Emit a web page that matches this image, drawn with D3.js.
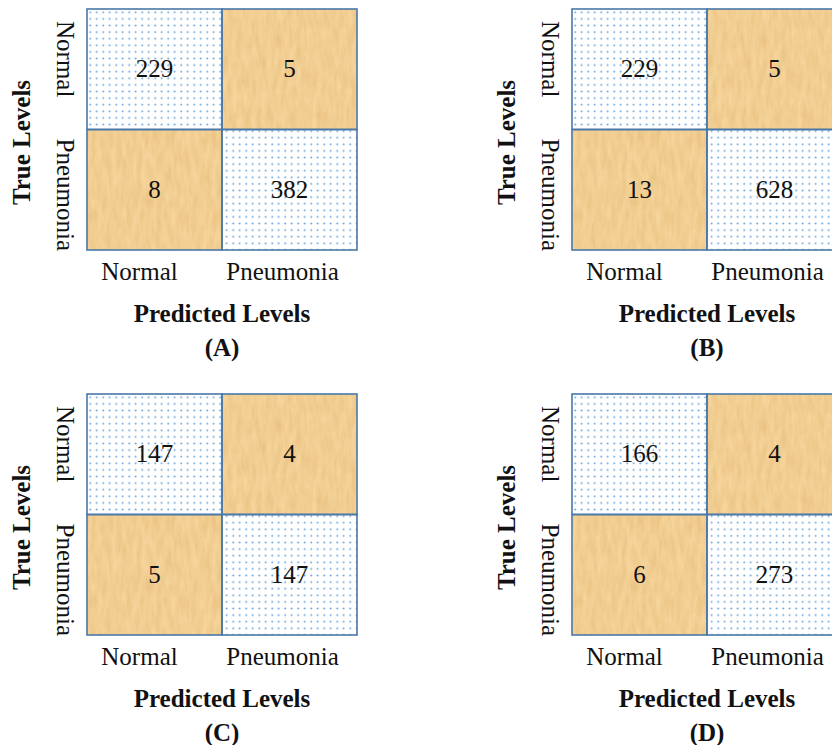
<!DOCTYPE html>
<html>
<head>
<meta charset="utf-8">
<script src="https://cdn.jsdelivr.net/npm/d3@7"></script>
<style>
  html, body { margin: 0; padding: 0; background: #ffffff; }
  svg { display: block; }
  text { font-family: "Liberation Serif", "Times New Roman", serif; fill: #111; }
</style>
</head>
<body>
<div id="chart"></div>
<script>
// ---- data ----
const classes = ["Normal", "Pneumonia"];          // true / predicted levels
const panelLabels = ["(A)", "(B)", "(C)", "(D)"];
const matrixA = [[229, 5], [8, 382]];
const matrixB = [[229, 5], [13, 628]];
const matrixC = [[147, 4], [5, 147]];
const matrixD = [[166, 4], [6, 273]];
const matrices = [matrixA, matrixB, matrixC, matrixD];
const xAxisTitle = "Predicted Levels";
const yAxisTitle = "True Levels";

// ---- layout / style ----
const W = 832, H = 745;
const panelLeft = [87, 572];
const panelTop = [9, 394];
const gridW = 270, gridH = 241;
const borderColor = "#4a78a8";
const dotColor = "#5b9bd5";
const xLabelShift = [-15, -7];
const yLabelStart = [12, 9];

const svg = d3.select("#chart").append("svg")
  .attr("width", W).attr("height", H);

const defs = svg.append("defs");
// dotted pattern (correct predictions)
const pat = defs.append("pattern")
  .attr("id", "dots").attr("patternUnits", "userSpaceOnUse")
  .attr("width", 6.5).attr("height", 6.6);
pat.append("rect").attr("width", 6.5).attr("height", 6.6).attr("fill", "#ffffff");
pat.append("circle").attr("cx", 3.2).attr("cy", 3.3).attr("r", 0.9).attr("fill", dotColor);

// papyrus-like texture (misclassifications)
const filt = defs.append("filter").attr("id", "papyrus")
  .attr("x", 0).attr("y", 0).attr("width", 1).attr("height", 1)
  .attr("color-interpolation-filters", "sRGB");
filt.append("feTurbulence").attr("type", "fractalNoise")
  .attr("baseFrequency", "0.2 0.05").attr("numOctaves", 3).attr("seed", 7).attr("result", "n");
filt.append("feColorMatrix").attr("in", "n").attr("type", "matrix")
  .attr("values", "0.07 0 0 0 0.91  0.10 0 0 0 0.755  0.14 0 0 0 0.50  0 0 0 0 1");

const x = d3.scaleBand().domain(classes).range([0, gridW]);
const y = d3.scaleBand().domain(classes).range([0, gridH]);

matrices.forEach((m, i) => {
  const px = panelLeft[i % 2], py = panelTop[Math.floor(i / 2)];
  const g = svg.append("g").attr("transform", `translate(${px},${py})`);

  const cells = [];
  classes.forEach((t, r) => classes.forEach((p, c) => cells.push({ t, p, r, c, v: m[r][c] })));

  g.selectAll("rect.cell").data(cells).join("rect")
    .attr("class", "cell")
    .attr("x", d => x(d.p)).attr("y", d => y(d.t))
    .attr("width", x.bandwidth()).attr("height", y.bandwidth())
    .attr("fill", d => d.r === d.c ? "url(#dots)" : "#efcb92")
    .attr("filter", d => d.r === d.c ? null : "url(#papyrus)");

  g.selectAll("rect.border").data(cells).join("rect")
    .attr("class", "border")
    .attr("x", d => x(d.p)).attr("y", d => y(d.t))
    .attr("width", x.bandwidth()).attr("height", y.bandwidth())
    .attr("fill", "none").attr("stroke", borderColor).attr("stroke-width", 1.6);

  g.selectAll("text.val").data(cells).join("text")
    .attr("class", "val")
    .attr("x", d => x(d.p) + x.bandwidth() / 2)
    .attr("y", d => y(d.t) + y.bandwidth() / 2 + 8)
    .attr("text-anchor", "middle").attr("font-size", 25)
    .text(d => d.v);

  // x tick labels
  g.selectAll("text.xl").data(classes).join("text")
    .attr("class", "xl")
    .attr("x", (d, k) => x(d) + x.bandwidth() / 2 + xLabelShift[k])
    .attr("y", gridH + 30)
    .attr("text-anchor", "middle").attr("font-size", 25)
    .text(d => d);

  // y tick labels (rotated, reading downward)
  g.selectAll("text.yl").data(classes).join("text")
    .attr("class", "yl")
    .attr("transform", (d, k) => `translate(-30,${y(d) + yLabelStart[k]}) rotate(90)`)
    .attr("text-anchor", "start").attr("font-size", 25)
    .text(d => d);

  g.append("text")
    .attr("x", gridW / 2).attr("y", gridH + 72)
    .attr("text-anchor", "middle").attr("font-size", 25).attr("font-weight", "bold")
    .text(xAxisTitle);

  g.append("text")
    .attr("x", gridW / 2).attr("y", gridH + 106)
    .attr("text-anchor", "middle").attr("font-size", 25).attr("font-weight", "bold")
    .text(panelLabels[i]);

  g.append("text")
    .attr("transform", `translate(-57,${gridH / 2 + 13}) rotate(-90)`)
    .attr("text-anchor", "middle").attr("font-size", 25).attr("font-weight", "bold")
    .text(yAxisTitle);
});
</script>
</body>
</html>
